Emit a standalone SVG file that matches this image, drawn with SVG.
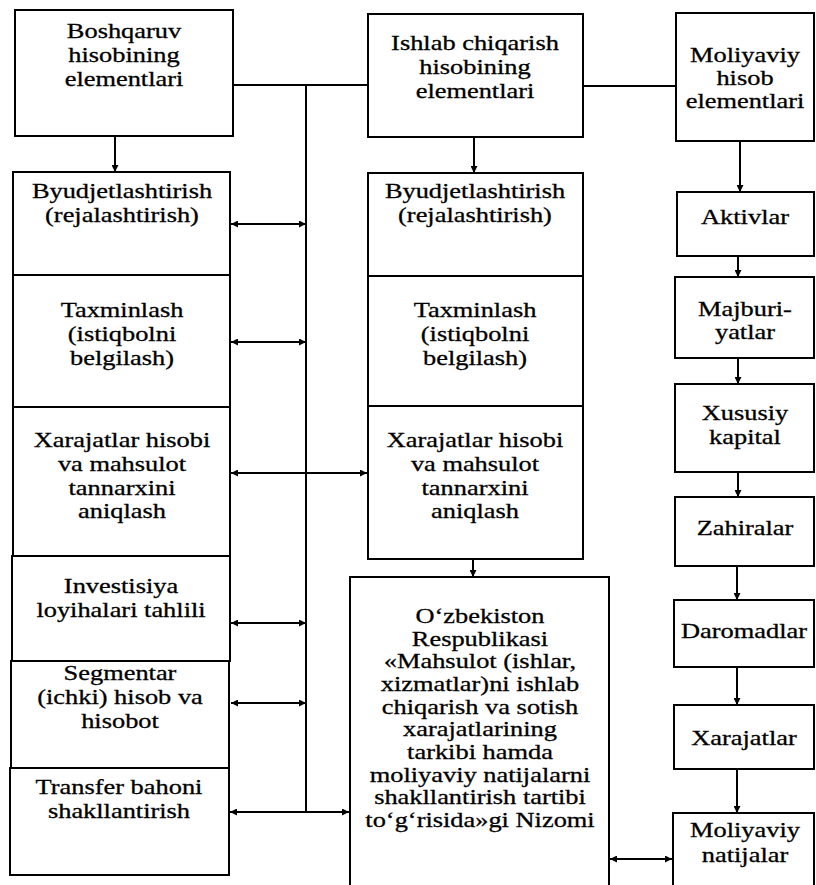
<svg xmlns="http://www.w3.org/2000/svg" width="816" height="885" viewBox="0 0 816 885">
<style>
  .box { fill: #fff; stroke: #000; stroke-width: 2; }
  .open { fill: none; stroke: #000; stroke-width: 2; }
  text { font-family: "Liberation Serif", "Times New Roman", serif; font-size: 22px; fill: #000; stroke: #000; stroke-width: 0.3; text-anchor: middle; }
  .c { stroke: #000; stroke-width: 2; fill: none; }
  .a { marker-end: url(#ah); }
  .d { marker-end: url(#ah); marker-start: url(#ah); }
</style>
<defs>
  <marker id="ah" viewBox="0 0 10 10" refX="10" refY="5" markerWidth="8" markerHeight="7" markerUnits="userSpaceOnUse" orient="auto-start-reverse">
    <path d="M0,0 L10,5 L0,10 z" fill="#000"/>
  </marker>
</defs>
<rect width="816" height="885" fill="#fff"/>

<g id="connectors">
  <path class="c" d="M233,85 H368"/>
  <path class="c" d="M583,86 H676"/>
  <path class="c" d="M306,85 V812"/>
  <path class="c a" d="M115,136 V172"/>
  <path class="c a" d="M474,137 V173"/>
  <path class="c a" d="M740,141 V192"/>
  <path class="c a" d="M738,256 V277"/>
  <path class="c a" d="M738,358 V384"/>
  <path class="c a" d="M738,472 V497"/>
  <path class="c a" d="M737,566 V600"/>
  <path class="c a" d="M737,667 V705"/>
  <path class="c a" d="M737,769 V813"/>
  <path class="c a" d="M473,559 V577"/>
  <path class="c d" d="M231,224 H306"/>
  <path class="c d" d="M231,342 H306"/>
  <path class="c d" d="M231,473 H367"/>
  <path class="c d" d="M231,623 H306"/>
  <path class="c d" d="M231,703 H306"/>
  <path class="c d" d="M230,812 H349"/>
  <path class="c d" d="M610,859 H672"/>
</g>

<g id="boshqaruv">
  <rect class="box" x="15" y="10" width="218" height="126"/>
  <g transform="translate(124 0) scale(1.2 1)">
    <text x="0" y="38">Boshqaruv</text>
    <text x="0" y="62">hisobining</text>
    <text x="0" y="86">elementlari</text>
  </g>
</g>
<g id="ishlab">
  <rect class="box" x="368" y="14" width="215" height="123"/>
  <g transform="translate(475 0) scale(1.2 1)">
    <text x="0" y="50">Ishlab chiqarish</text>
    <text x="0" y="74">hisobining</text>
    <text x="0" y="98">elementlari</text>
  </g>
</g>
<g id="moliyaviy">
  <rect class="box" x="676" y="13" width="138" height="128"/>
  <g transform="translate(745 0) scale(1.2 1)">
    <text x="0" y="62">Moliyaviy</text>
    <text x="0" y="85">hisob</text>
    <text x="0" y="108">elementlari</text>
  </g>
</g>

<g id="l-byudjet">
  <rect class="box" x="13" y="172" width="217" height="103"/>
  <g transform="translate(122 0) scale(1.2 1)">
    <text x="0" y="198">Byudjetlashtirish</text>
    <text x="0" y="222">(rejalashtirish)</text>
  </g>
</g>
<g id="l-taxmin">
  <rect class="box" x="13" y="275" width="217" height="132"/>
  <g transform="translate(122 0) scale(1.2 1)">
    <text x="0" y="317">Taxminlash</text>
    <text x="0" y="341">(istiqbolni</text>
    <text x="0" y="365">belgilash)</text>
  </g>
</g>
<g id="l-xarajat">
  <rect class="box" x="13" y="407" width="217" height="149"/>
  <g transform="translate(122 0) scale(1.2 1)">
    <text x="0" y="447">Xarajatlar hisobi</text>
    <text x="0" y="471">va mahsulot</text>
    <text x="0" y="495">tannarxini</text>
    <text x="0" y="518">aniqlash</text>
  </g>
</g>
<g id="l-invest">
  <rect class="box" x="12" y="556" width="218" height="105"/>
  <g transform="translate(121 0) scale(1.2 1)">
    <text x="0" y="593">Investisiya</text>
    <text x="0" y="617">loyihalari tahlili</text>
  </g>
</g>
<g id="l-segment">
  <rect class="box" x="11" y="661" width="218" height="107"/>
  <g transform="translate(120 0) scale(1.2 1)">
    <text x="0" y="680">Segmentar</text>
    <text x="0" y="704">(ichki) hisob va</text>
    <text x="0" y="728">hisobot</text>
  </g>
</g>
<g id="l-transfer">
  <rect class="box" x="10" y="768" width="219" height="107"/>
  <g transform="translate(119 0) scale(1.2 1)">
    <text x="0" y="794">Transfer bahoni</text>
    <text x="0" y="818">shakllantirish</text>
  </g>
</g>

<g id="m-byudjet">
  <rect class="box" x="368" y="173" width="215" height="103"/>
  <g transform="translate(475 0) scale(1.2 1)">
    <text x="0" y="198">Byudjetlashtirish</text>
    <text x="0" y="222">(rejalashtirish)</text>
  </g>
</g>
<g id="m-taxmin">
  <rect class="box" x="368" y="276" width="215" height="130"/>
  <g transform="translate(475 0) scale(1.2 1)">
    <text x="0" y="317">Taxminlash</text>
    <text x="0" y="341">(istiqbolni</text>
    <text x="0" y="365">belgilash)</text>
  </g>
</g>
<g id="m-xarajat">
  <rect class="box" x="368" y="406" width="215" height="153"/>
  <g transform="translate(475 0) scale(1.2 1)">
    <text x="0" y="447">Xarajatlar hisobi</text>
    <text x="0" y="471">va mahsulot</text>
    <text x="0" y="495">tannarxini</text>
    <text x="0" y="518">aniqlash</text>
  </g>
</g>

<g id="nizomi">
  <path class="open" d="M350,885 V577 H609 V885"/>
  <g transform="translate(480 0) scale(1.2 1)">
    <text x="0" y="623">O‘zbekiston</text>
    <text x="0" y="646">Respublikasi</text>
    <text x="0" y="668">«Mahsulot (ishlar,</text>
    <text x="0" y="691">xizmatlar)ni ishlab</text>
    <text x="0" y="714">chiqarish va sotish</text>
    <text x="0" y="736">xarajatlarining</text>
    <text x="0" y="759">tarkibi hamda</text>
    <text x="0" y="782">moliyaviy natijalarni</text>
    <text x="0" y="804">shakllantirish tartibi</text>
    <text x="0" y="827">to‘g‘risida»gi Nizomi</text>
  </g>
</g>

<g id="aktivlar">
  <rect class="box" x="677" y="192" width="137" height="64"/>
  <g transform="translate(745 0) scale(1.2 1)">
    <text x="0" y="224">Aktivlar</text>
  </g>
</g>
<g id="majburiyatlar">
  <rect class="box" x="675" y="277" width="139" height="81"/>
  <g transform="translate(745 0) scale(1.2 1)">
    <text x="0" y="316">Majburi-</text>
    <text x="0" y="339">yatlar</text>
  </g>
</g>
<g id="xususiy">
  <rect class="box" x="675" y="384" width="139" height="88"/>
  <g transform="translate(745 0) scale(1.2 1)">
    <text x="0" y="420">Xususiy</text>
    <text x="0" y="444">kapital</text>
  </g>
</g>
<g id="zahiralar">
  <rect class="box" x="675" y="497" width="139" height="69"/>
  <g transform="translate(745 0) scale(1.2 1)">
    <text x="0" y="535">Zahiralar</text>
  </g>
</g>
<g id="daromadlar">
  <rect class="box" x="674" y="600" width="140" height="67"/>
  <g transform="translate(744 0) scale(1.2 1)">
    <text x="0" y="638">Daromadlar</text>
  </g>
</g>
<g id="xarajatlar">
  <rect class="box" x="674" y="705" width="140" height="64"/>
  <g transform="translate(744 0) scale(1.2 1)">
    <text x="0" y="745">Xarajatlar</text>
  </g>
</g>
<g id="moliyaviy-natijalar">
  <path class="open" d="M673,885 V813 H814 V885"/>
  <g transform="translate(745 0) scale(1.2 1)">
    <text x="0" y="837">Moliyaviy</text>
    <text x="0" y="862">natijalar</text>
  </g>
</g>
</svg>
